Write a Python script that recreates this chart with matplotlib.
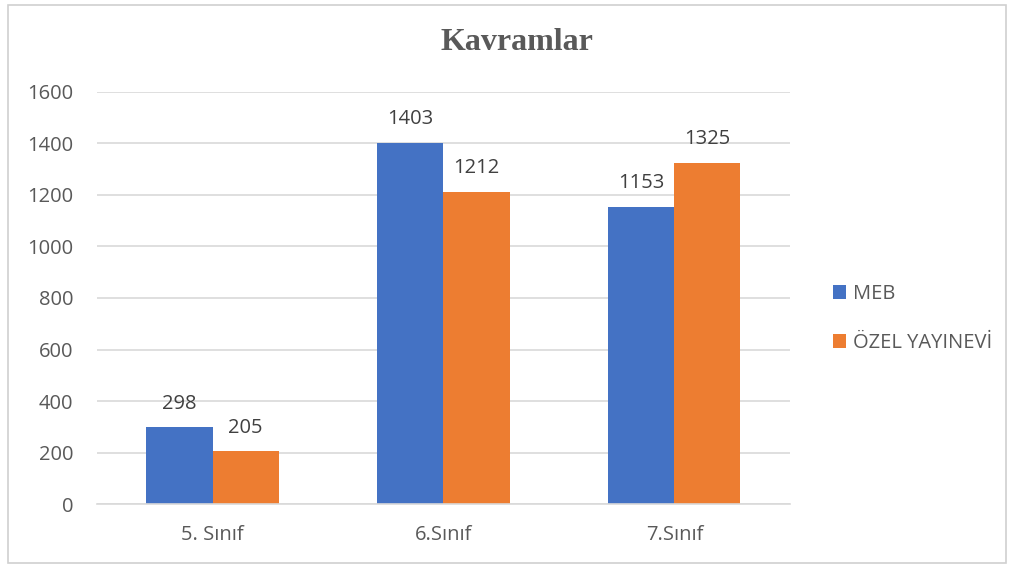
import matplotlib
matplotlib.use("Agg")
import matplotlib.pyplot as plt
import numpy as np
from matplotlib.patches import Rectangle

categories = ["5. Sınıf", "6.Sınıf", "7.Sınıf"]
meb = [298, 1403, 1153]
ozel = [205, 1212, 1325]
series_names = ["MEB", "ÖZEL YAYINEVİ"]
yticks = [0, 200, 400, 600, 800, 1000, 1200, 1400, 1600]

blue = "#4472C4"
orange = "#ED7D31"
text_gray = "#595959"
grid_gray = "#D9D9D9"

plt.rcParams["font.family"] = ["Open Sans", "DejaVu Sans"]

fig = plt.figure(figsize=(10.14, 5.66), dpi=100)
ax = fig.add_axes([0.0957, 0.1095, 0.6833, 0.728])

x = np.arange(len(categories))
w = 0.286
b1 = ax.bar(x - w / 2, meb, w, color=blue, label=series_names[0])
b2 = ax.bar(x + w / 2, ozel, w, color=orange, label=series_names[1])

for bars, vals in ((b1, meb), (b2, ozel)):
    for rect, v in zip(bars, vals):
        ax.annotate(str(v), (rect.get_x() + rect.get_width() / 2, v),
                    xytext=(0, 17), textcoords="offset points",
                    ha="center", va="center", fontsize=14.5, color="#404040")

ax.set_xlim(-0.5, 2.5)
ax.set_ylim(0, 1600)
ax.set_yticks(yticks)
ax.set_xticks(x)
ax.set_xticklabels(categories)
ax.grid(axis="y", color=grid_gray, linewidth=1.2)
ax.set_axisbelow(True)
for s in ("top", "right", "left"):
    ax.spines[s].set_visible(False)
ax.spines["bottom"].set_color(grid_gray)
ax.spines["bottom"].set_linewidth(1.2)
ax.tick_params(axis="both", length=0, labelsize=14.5, labelcolor=text_gray)
ax.tick_params(axis="y", pad=17)
ax.tick_params(axis="x", pad=15)

fig.text(0.51, 0.925, "Kavramlar", ha="center", va="center",
         fontsize=23, fontweight="bold", color=text_gray,
         family=["Liberation Serif", "DejaVu Serif"])

leg = fig.legend(handles=[b1, b2], labels=series_names, loc="center left",
                 bbox_to_anchor=(0.804, 0.437), frameon=False, fontsize=14.5,
                 handlelength=0.65, handleheight=0.65, handletextpad=0.3,
                 labelspacing=1.45)
for t in leg.get_texts():
    t.set_color(text_gray)

fig.patches.append(Rectangle((0.008, 0.006), 0.984, 0.985, transform=fig.transFigure,
                             fill=False, edgecolor="#D0D0D0", linewidth=1.2))

fig.savefig("out.png", dpi=100)
